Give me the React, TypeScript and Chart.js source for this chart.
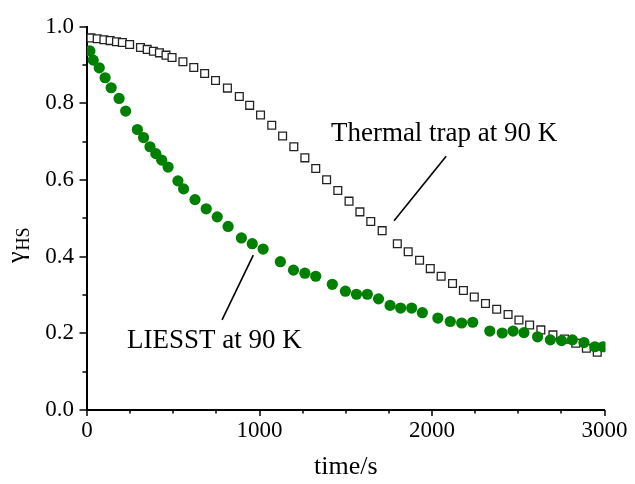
import { useEffect, useRef } from 'react';
import { Chart, registerables } from 'chart.js';

Chart.register(...registerables);

// LIESST at 90 K (filled green circles)
const liesstTime = [17, 36, 71, 105, 140, 186, 224, 292, 328, 365, 399, 433, 470, 527, 560, 626, 691, 755, 818, 895, 958, 1021, 1121, 1197, 1263, 1326, 1422, 1498, 1562, 1625, 1690, 1757, 1818, 1882, 1944, 2034, 2106, 2172, 2236, 2335, 2407, 2470, 2533, 2612, 2686, 2751, 2814, 2881, 2944, 2991];
const liesstGamma = [0.937, 0.913, 0.893, 0.867, 0.841, 0.813, 0.780, 0.732, 0.711, 0.687, 0.669, 0.652, 0.634, 0.598, 0.577, 0.549, 0.525, 0.504, 0.479, 0.449, 0.434, 0.420, 0.387, 0.365, 0.357, 0.349, 0.328, 0.310, 0.302, 0.302, 0.290, 0.273, 0.266, 0.266, 0.254, 0.240, 0.231, 0.227, 0.229, 0.206, 0.201, 0.206, 0.202, 0.191, 0.183, 0.181, 0.183, 0.176, 0.165, 0.165];

// Thermal trap at 90 K (open squares)
const thermalTime = [23, 59, 98, 134, 171, 205, 247, 310, 349, 385, 420, 458, 493, 556, 619, 682, 745, 814, 883, 943, 1006, 1071, 1134, 1199, 1263, 1326, 1389, 1454, 1519, 1582, 1645, 1711, 1799, 1862, 1928, 1990, 2053, 2119, 2182, 2245, 2310, 2375, 2441, 2504, 2566, 2631, 2701, 2768, 2833, 2895, 2958];
const thermalGamma = [0.971, 0.969, 0.966, 0.964, 0.961, 0.959, 0.954, 0.946, 0.941, 0.936, 0.932, 0.926, 0.920, 0.909, 0.894, 0.878, 0.860, 0.840, 0.818, 0.795, 0.770, 0.743, 0.715, 0.687, 0.658, 0.630, 0.601, 0.573, 0.545, 0.517, 0.492, 0.468, 0.434, 0.413, 0.391, 0.369, 0.349, 0.330, 0.312, 0.295, 0.278, 0.263, 0.249, 0.235, 0.222, 0.209, 0.196, 0.185, 0.174, 0.161, 0.151];

// Axes
const xMajorTicks = [0, 1000, 2000, 3000];
const xMinorStep = 250;
const yMajorTicks = [0.0, 0.2, 0.4, 0.6, 0.8, 1.0];
const yMinorStep = 0.1;

// Annotations (in data coordinates)
const thermalLabel = { text: 'Thermal trap at 90 K', t: 1414, g: 0.703 };
const thermalPointer = [
  { t: 1780, g: 0.494 },
  { t: 2082, g: 0.662 },
];
const liesstLabel = { text: 'LIESST at 90 K', t: 232, g: 0.162 };
const liesstPointer = [
  { t: 783, g: 0.235 },
  { t: 964, g: 0.404 },
];

const FONT = "'Liberation Serif', 'Times New Roman', serif";

const isMajor = (list: number[], v: number) => list.some((m) => Math.abs(m - v) < 1e-6);

const decorPlugin = {
  id: 'decor',
  afterDraw(chart: any) {
    const { ctx, chartArea, scales } = chart;
    const xs = scales.x;
    const ys = scales.y;
    ctx.save();
    ctx.strokeStyle = '#000';
    ctx.lineWidth = 1.5;
    // x ticks (outward)
    for (let v = 0; v <= 3000 + 1e-6; v += xMinorStep) {
      const px = Math.round(xs.getPixelForValue(v));
      const len = isMajor(xMajorTicks, v) ? 6 : 3.5;
      ctx.beginPath();
      ctx.moveTo(px, chartArea.bottom);
      ctx.lineTo(px, chartArea.bottom + len);
      ctx.stroke();
    }
    // y ticks (outward)
    for (let i = 0; i <= 10; i++) {
      const v = i * yMinorStep;
      const py = Math.round(ys.getPixelForValue(v));
      const len = isMajor(yMajorTicks, v) ? 7.5 : 4.5;
      ctx.beginPath();
      ctx.moveTo(chartArea.left, py);
      ctx.lineTo(chartArea.left - len, py);
      ctx.stroke();
    }

    // annotations
    ctx.fillStyle = '#000';
    ctx.font = `27px ${FONT}`;
    ctx.textBaseline = 'alphabetic';
    ctx.textAlign = 'left';
    ctx.fillText(thermalLabel.text, xs.getPixelForValue(thermalLabel.t), ys.getPixelForValue(thermalLabel.g));
    ctx.fillText(liesstLabel.text, xs.getPixelForValue(liesstLabel.t), ys.getPixelForValue(liesstLabel.g));
    ctx.lineWidth = 1.6;
    for (const seg of [thermalPointer, liesstPointer]) {
      ctx.beginPath();
      ctx.moveTo(xs.getPixelForValue(seg[0].t), ys.getPixelForValue(seg[0].g));
      ctx.lineTo(xs.getPixelForValue(seg[1].t), ys.getPixelForValue(seg[1].g));
      ctx.stroke();
    }

    // y-axis title: gamma with subscript HS, rotated
    ctx.translate(24, 263);
    ctx.rotate(-Math.PI / 2);
    ctx.font = `26px ${FONT}`;
    ctx.fillText('γ', 0, 0);
    const w = ctx.measureText('γ').width;
    ctx.font = `18px ${FONT}`;
    ctx.fillText('HS', w + 1, 5);
    ctx.restore();
  },
};

export default function App() {
  const canvasRef = useRef<HTMLCanvasElement | null>(null);

  useEffect(() => {
    const canvas = canvasRef.current;
    if (!canvas) return;
    Chart.defaults.font.family = FONT;
    Chart.defaults.color = '#000';

    const chart = new Chart(canvas, {
      type: 'scatter',
      data: {
        datasets: [
          {
            label: 'LIESST at 90 K',
            data: liesstTime.map((t, i) => ({ x: t, y: liesstGamma[i] })),
            pointStyle: 'circle',
            pointRadius: 5.6,
            pointBackgroundColor: '#008000',
            pointBorderColor: '#008000',
            pointBorderWidth: 0,
            showLine: false,
            clip: { left: 0, right: 1, top: 15, bottom: 0 },
          },
          {
            label: 'Thermal trap at 90 K',
            data: thermalTime.map((t, i) => ({ x: t, y: thermalGamma[i] })),
            pointStyle: 'rect',
            pointRadius: 5.5,
            pointBackgroundColor: '#ffffff',
            pointBorderColor: '#222',
            pointBorderWidth: 1.3,
            showLine: false,
            clip: { left: 0, right: 1, top: 15, bottom: 0 },
          },
        ],
      },
      options: {
        animation: false,
        responsive: false,
        devicePixelRatio: 1,
        layout: { padding: { left: 0, top: 24, right: 26, bottom: 0 } },
        plugins: {
          legend: { display: false },
          tooltip: { enabled: false },
        },
        scales: {
          x: {
            type: 'linear',
            min: 0,
            max: 3000,
            afterFit: (scale: any) => {
              scale.height = 74;
            },
            ticks: {
              stepSize: xMinorStep,
              autoSkip: false,
              maxRotation: 0,
              padding: 7.5,
              font: { size: 23, family: FONT },
              color: '#000',
              callback: (v: any) => (isMajor(xMajorTicks, Number(v)) ? String(v) : ''),
            },
            grid: { display: true, drawOnChartArea: false, drawTicks: false },
            border: { display: true, color: '#000', width: 2 },
            title: {
              display: true,
              text: 'time/s',
              font: { size: 26, family: FONT },
              color: '#000',
              padding: { top: 0, bottom: 1 },
            },
          },
          y: {
            type: 'linear',
            min: 0,
            max: 1,
            afterFit: (scale: any) => {
              scale.width = 87;
            },
            ticks: {
              stepSize: yMinorStep,
              autoSkip: false,
              padding: 13,
              font: { size: 23, family: FONT },
              color: '#000',
              callback: (v: any) => (isMajor(yMajorTicks, Number(v)) ? Number(v).toFixed(1) : ''),
            },
            grid: { display: true, drawOnChartArea: false, drawTicks: false },
            border: { display: true, color: '#000', width: 2 },
          },
        },
      },
      plugins: [decorPlugin],
    });
    return () => chart.destroy();
  }, []);

  return (
    <div style={{ position: 'fixed', left: 0, top: 0, width: 635, height: 484, background: '#fff' }}>
      <canvas ref={canvasRef} width={635} height={484} style={{ display: 'block' }} />
    </div>
  );
}
